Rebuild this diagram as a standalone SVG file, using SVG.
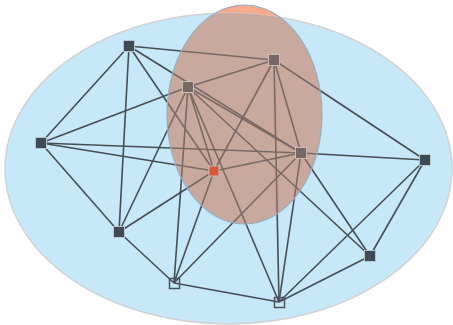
<svg xmlns="http://www.w3.org/2000/svg" width="453" height="325" viewBox="0 0 453 325">
<defs>
<style>
.e{stroke:#464e55;stroke-width:1.6;fill:none}
.n{fill:#3e4a54;stroke:#b8c4cc;stroke-width:1}
.h{fill:none;stroke:#4a535b;stroke-width:1.5}
.r{fill:#c83019;stroke:#b8c4cc;stroke-width:1}
</style>
<clipPath id="bc"><ellipse cx="228.5" cy="168.5" rx="223.5" ry="155.5"/></clipPath>
</defs>
<g id="hulls">
<ellipse cx="244.5" cy="114.5" rx="77.5" ry="109.5" fill="#f7a98b"/>
<ellipse cx="228.5" cy="168.5" rx="223.5" ry="155.5" fill="#c6e8f8" stroke="#d2d2d2" stroke-width="1.5"/>
<ellipse cx="244.5" cy="114.5" rx="77.5" ry="109.5" fill="#b5aaa6" clip-path="url(#bc)"/>
</g>
<g id="edges">
<line class="e" x1="129" y1="46" x2="274" y2="60"/>
<line class="e" x1="129" y1="46" x2="41" y2="143"/>
<line class="e" x1="129" y1="46" x2="119" y2="232"/>
<line class="e" x1="129" y1="46" x2="301" y2="153"/>
<line class="e" x1="129" y1="46" x2="214" y2="171"/>
<line class="e" x1="274" y1="60" x2="188" y2="87"/>
<line class="e" x1="274" y1="60" x2="425" y2="160"/>
<line class="e" x1="274" y1="60" x2="301" y2="153"/>
<line class="e" x1="274" y1="60" x2="279" y2="302"/>
<line class="e" x1="274" y1="60" x2="214" y2="171"/>
<line class="e" x1="188" y1="87" x2="41" y2="143"/>
<line class="e" x1="188" y1="87" x2="301" y2="153"/>
<line class="e" x1="188" y1="87" x2="214" y2="171"/>
<line class="e" x1="188" y1="87" x2="119" y2="232"/>
<line class="e" x1="188" y1="87" x2="174" y2="283"/>
<line class="e" x1="188" y1="87" x2="279" y2="302"/>
<line class="e" x1="188" y1="87" x2="370" y2="256"/>
<line class="e" x1="41" y1="143" x2="301" y2="153"/>
<line class="e" x1="41" y1="143" x2="214" y2="171"/>
<line class="e" x1="41" y1="143" x2="119" y2="232"/>
<line class="e" x1="301" y1="153" x2="425" y2="160"/>
<line class="e" x1="301" y1="153" x2="214" y2="171"/>
<line class="e" x1="301" y1="153" x2="174" y2="283"/>
<line class="e" x1="301" y1="153" x2="279" y2="302"/>
<line class="e" x1="301" y1="153" x2="370" y2="256"/>
<line class="e" x1="425" y1="160" x2="370" y2="256"/>
<line class="e" x1="425" y1="160" x2="279" y2="302"/>
<line class="e" x1="119" y1="232" x2="214" y2="171"/>
<line class="e" x1="119" y1="232" x2="174" y2="283"/>
<line class="e" x1="174" y1="283" x2="279" y2="302"/>
<line class="e" x1="174" y1="283" x2="214" y2="171"/>
<line class="e" x1="370" y1="256" x2="279" y2="302"/>
</g>
<g id="A"><rect class="n" x="123.5" y="40.5" width="11" height="11"/></g>
<g id="B"><rect class="n" x="268.5" y="54.5" width="11" height="11"/></g>
<g id="C"><rect class="n" x="182.5" y="81.5" width="11" height="11"/></g>
<g id="D"><rect class="n" x="35.5" y="137.5" width="11" height="11"/></g>
<g id="E"><rect class="n" x="295.5" y="147.5" width="11" height="11"/></g>
<g id="F"><rect class="n" x="419.5" y="154.5" width="11" height="11"/></g>
<g id="G"><rect class="n" x="113.5" y="226.5" width="11" height="11"/></g>
<g id="J"><rect class="n" x="364.5" y="250.5" width="11" height="11"/></g>
<g id="I"><rect class="r" x="209" y="166" width="10" height="10"/></g>
<g id="H"><rect class="h" x="169.5" y="278.5" width="10" height="10"/></g>
<g id="K"><rect class="h" x="274.5" y="297.5" width="10" height="10"/></g>
<g id="overlay"><ellipse cx="244.5" cy="114.5" rx="77.5" ry="109.5" fill="#f7a98b" fill-opacity="0.3" stroke="#98afbf" stroke-width="1.2"/></g>
</svg>
